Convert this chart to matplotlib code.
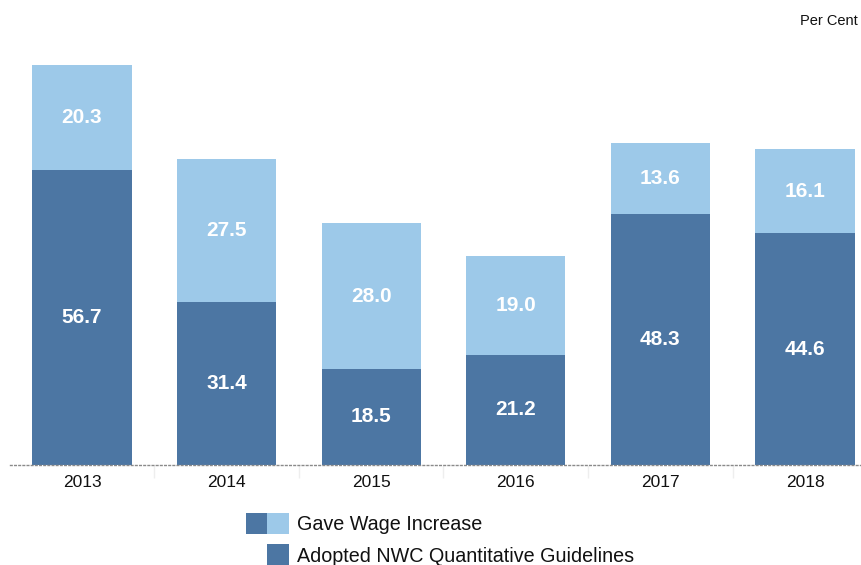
import matplotlib
matplotlib.use("Agg")
import matplotlib.pyplot as plt
from matplotlib.patches import Rectangle

plt.rcParams['font.family'] = ['Liberation Sans', 'DejaVu Sans']

years = ["2013", "2014", "2015", "2016", "2017", "2018"]
guidelines = [56.7, 31.4, 18.5, 21.2, 48.3, 44.6]
wage_increase = [20.3, 27.5, 28.0, 19.0, 13.6, 16.1]
legend_labels = ["Gave Wage Increase", "Adopted NWC Quantitative Guidelines"]
unit_label = "Per Cent"

DARK = "#4C76A3"
LIGHT = "#9DC9E9"

W, H = 862, 565
fig = plt.figure(figsize=(W / 100, H / 100), dpi=100)

# axes in pixel geometry: baseline at y=465, categories spaced ~144.6 px
left_px, right_px = 9.7, 877.3
bottom_px, top_px = 465, 0
ax = fig.add_axes([left_px / W, (H - bottom_px) / H,
                   (right_px - left_px) / W, (bottom_px - top_px) / H])

x = list(range(len(years)))
width = 0.685
ax.bar(x, guidelines, width=width, color=DARK, edgecolor="none", zorder=2)
ax.bar(x, wage_increase, width=width, bottom=guidelines, color=LIGHT,
       edgecolor="none", zorder=2)

for xi, g, w in zip(x, guidelines, wage_increase):
    ax.text(xi, g / 2, f"{g:.1f}", ha="center", va="center", color="white",
            fontsize=15, fontweight="bold", zorder=3)
    ax.text(xi, g + w / 2, f"{w:.1f}", ha="center", va="center", color="white",
            fontsize=15, fontweight="bold", zorder=3)

ax.set_xlim(-0.5, len(years) - 0.5)
ax.set_ylim(0, 465 / 5.2)

for side in ("left", "right", "top"):
    ax.spines[side].set_visible(False)
ax.spines["bottom"].set_linestyle((0, (1.2, 1.8)))
ax.spines["bottom"].set_color("#8a8a8a")
ax.spines["bottom"].set_linewidth(1.0)

ax.set_yticks([])
ax.set_xticks(x)
ax.set_xticklabels(years, fontsize=12.5, color="#111111")
ax.tick_params(axis="x", length=0, pad=7)
ax.set_xticks([i + 0.5 for i in x[:-1]], minor=True)
ax.tick_params(axis="x", which="minor", length=9, color="#eeeeee", width=1)

fig.text(858 / W, 1 - 21 / H, unit_label, fontsize=10.5, color="#111111",
         ha="right", va="center", fontweight="medium")

# legend drawn as figure-level patches
def px_rect(x0, y0, x1, y1, color):
    fig.patches.append(Rectangle((x0 / W, 1 - y1 / H), (x1 - x0) / W,
                                 (y1 - y0) / H, transform=fig.transFigure,
                                 facecolor=color, edgecolor="none"))

px_rect(246, 513, 267, 534, DARK)
px_rect(267, 513, 289, 534, LIGHT)
px_rect(267, 544, 289, 565, DARK)
fig.text(297 / W, 1 - 525 / H, legend_labels[0], fontsize=14.2,
         color="#111111", ha="left", va="center")
fig.text(297 / W, 1 - 556 / H, legend_labels[1], fontsize=14.2,
         color="#111111", ha="left", va="center")

fig.savefig("out.png", dpi=100)
